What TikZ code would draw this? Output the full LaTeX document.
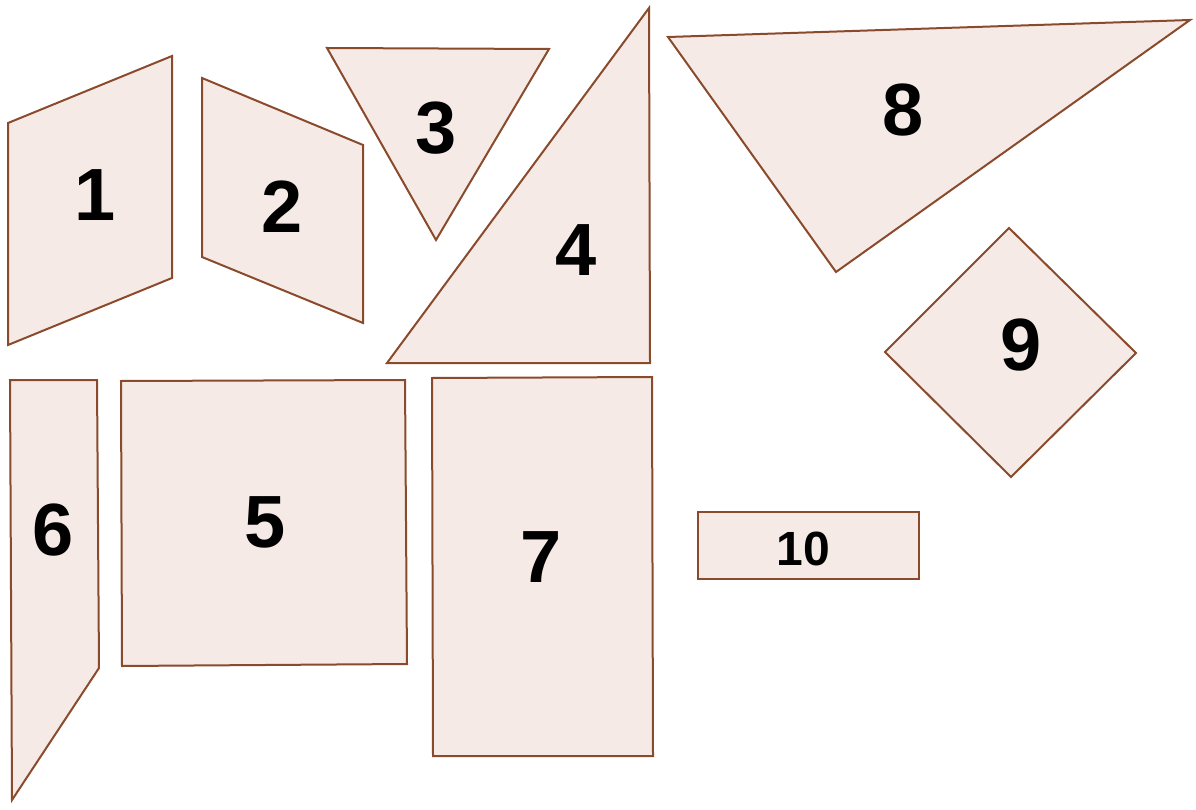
\documentclass[tikz,border=0pt]{standalone}
\usepackage{fontspec}
\newfontfamily\piecefont{Liberation Sans}
\definecolor{piecefill}{HTML}{F5EAE6}
\definecolor{pieceedge}{HTML}{8A4A2C}
\tikzset{
  piece/.style={draw=pieceedge, fill=piecefill, line width=2pt, line join=miter},
  num/.style={font=\piecefont\bfseries\fontsize{74}{74}\selectfont},
  smallnum/.style={font=\piecefont\bfseries\fontsize{48}{48}\selectfont}
}
\begin{document}
\begin{tikzpicture}[x=1pt,y=-1pt]
        \useasboundingbox (0,0) rectangle (1196,810);

        % top row
        \draw[piece] (8,123) -- (172,56) -- (172,278) -- (8,345) -- cycle;
        \draw[piece] (202,78) -- (363,145) -- (363,323) -- (202,257) -- cycle;
        \draw[piece] (327,48) -- (549,49) -- (436,240) -- cycle;
        \draw[piece] (649,8) -- (650,363) -- (387,363) -- cycle;
        \draw[piece] (668,37) -- (1190,20) -- (836,272) -- cycle;
        \draw[piece] (1009,228) -- (1136,353) -- (1011,477) -- (885,352) -- cycle;

        % bottom row
        \draw[piece] (10,380) -- (97,380) -- (99,668) -- (12,800) -- cycle;
        \draw[piece] (121,381) -- (405,380) -- (407,664) -- (122,666) -- cycle;
        \draw[piece] (432,378) -- (652,377) -- (653,756) -- (433,756) -- cycle;
        \draw[piece] (698,512) -- (919,512) -- (919,579) -- (698,579) -- cycle;

        \node[num] (one) at (95,195) {1};
        \node[num] (two) at (282,207) {2};
        \node[num] (three) at (436,128) {3};
        \node[num] (four) at (576,250) {4};
        \node[num] (five) at (265,522) {5};
        \node[num] (six) at (53,530) {6};
        \node[num] (seven) at (541,557) {7};
        \node[num] (eight) at (903,110) {8};
        \node[num] (nine) at (1021,345) {9};
        \node[smallnum] (ten) at (803,549) {10};
\end{tikzpicture}
\end{document}
